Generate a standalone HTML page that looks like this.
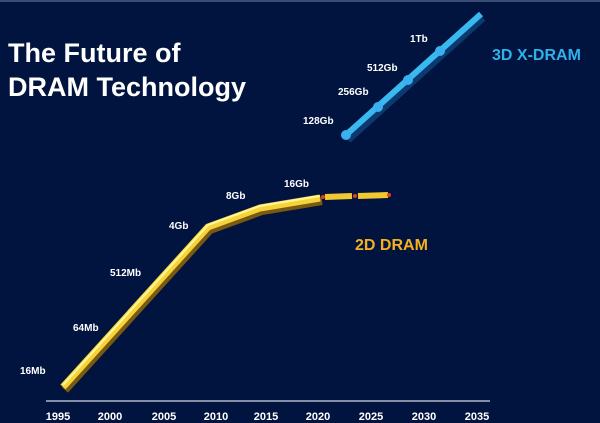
<!DOCTYPE html>
<html><head><style>
html,body{margin:0;padding:0;background:#01143f;}
svg{display:block;}
text{font-family:"Liberation Sans",sans-serif;font-weight:bold;}
</style></head><body>
<svg width="600" height="423" viewBox="0 0 600 423">
<rect width="600" height="423" fill="#01143f"/>
<rect x="0" y="0" width="600" height="2" fill="#3a4a70"/>
<text x="8" y="62" fill="#fff" font-size="27">The Future of</text>
<text x="8" y="96" fill="#fff" font-size="27">DRAM Technology</text>
<polyline points="63,387 208,227 260,208 320,198" fill="none" stroke="#7a5a10" stroke-width="8" transform="translate(2,3)" stroke-linejoin="round"/>
<polyline points="63,387 208,227 260,208 320,198" fill="none" stroke="#f4d43a" stroke-width="7" stroke-linejoin="round"/>
<polyline points="63,385 208,225 260,206 320,196" fill="none" stroke="#fff59a" stroke-width="2"/>
<line x1="325" y1="197" x2="352" y2="196" stroke="#f0c830" stroke-width="6"/>
<line x1="358" y1="196" x2="388" y2="195" stroke="#f0c830" stroke-width="6"/>
<circle cx="323" cy="197" r="2" fill="#e04020"/><circle cx="355" cy="196" r="2" fill="#e04020"/><circle cx="389" cy="195" r="2" fill="#e04020"/>
<line x1="347" y1="137" x2="482" y2="15" stroke="#0a3a70" stroke-width="7" transform="translate(1,3)"/>
<line x1="347" y1="134" x2="481" y2="14" stroke="#3ab8f0" stroke-width="6"/>
<circle cx="346" cy="135" r="5" fill="#3ab0f0"/>
<circle cx="378" cy="107" r="5" fill="#3ab0f0"/>
<circle cx="408" cy="80" r="5" fill="#3ab0f0"/>
<circle cx="440" cy="51" r="5" fill="#3ab0f0"/>
<text x="492" y="60" fill="#2fb0ea" font-size="16">3D X-DRAM</text>
<text x="355" y="250" fill="#f6b01e" font-size="16">2D DRAM</text>
<g fill="#fff" font-size="10">
<text x="410" y="42">1Tb</text>
<text x="367" y="71">512Gb</text>
<text x="338" y="95">256Gb</text>
<text x="303" y="124">128Gb</text>
<text x="284" y="187">16Gb</text>
<text x="226" y="199">8Gb</text>
<text x="169" y="229">4Gb</text>
<text x="110" y="276">512Mb</text>
<text x="73" y="331">64Mb</text>
<text x="20" y="374">16Mb</text>
</g>
<line x1="46" y1="401" x2="490" y2="401" stroke="#b0b6c8" stroke-width="1.5"/>
<g fill="#fff" font-size="11" text-anchor="middle">
<text x="58" y="420">1995</text><text x="110" y="420">2000</text><text x="164" y="420">2005</text>
<text x="216" y="420">2010</text><text x="266" y="420">2015</text><text x="318" y="420">2020</text>
<text x="371" y="420">2025</text><text x="424" y="420">2030</text><text x="477" y="420">2035</text>
</g>
</svg>
</body></html>
